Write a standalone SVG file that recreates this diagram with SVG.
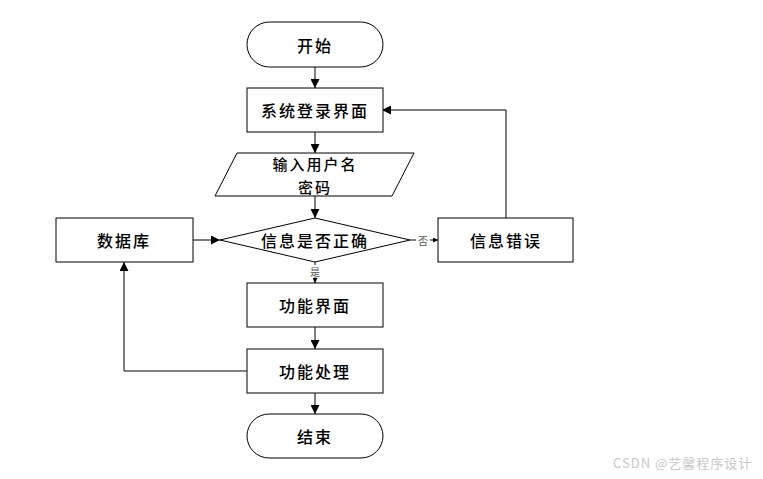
<svg xmlns="http://www.w3.org/2000/svg" width="763" height="479" viewBox="0 0 763 479">
<style>
.s{fill:#fff;stroke:#000;stroke-width:1}
.t{font-family:"Noto Sans CJK SC","Liberation Serif",serif;font-size:16px;font-weight:500;letter-spacing:2px;fill:#000;text-anchor:middle;dominant-baseline:central}
.m{font-size:15px}
.l{font-family:"Noto Sans CJK SC",sans-serif;font-size:10px;fill:#555;text-anchor:middle;dominant-baseline:central}
.c{fill:none;stroke:#000;stroke-width:1}
.w{font-family:"Noto Sans CJK SC",sans-serif;font-size:13px;letter-spacing:1px;fill:#c8c8c8}
</style>
<defs>
<marker id="a" viewBox="0 0 10 10" refX="10" refY="5" markerWidth="9" markerHeight="9" markerUnits="userSpaceOnUse" orient="auto">
<path d="M0,0L10,5L0,10Z" fill="#000"/>
</marker>
<marker id="b" viewBox="0 0 10 10" refX="10" refY="5" markerWidth="5" markerHeight="5" markerUnits="userSpaceOnUse" orient="auto">
<path d="M0,0L10,5L0,10Z" fill="#000"/>
</marker>
</defs>
<rect width="763" height="479" fill="#fff"/>
<g id="connectors">
<line class="c" x1="315" y1="67" x2="315" y2="88" marker-end="url(#a)"/>
<line class="c" x1="315" y1="132" x2="315" y2="153" marker-end="url(#a)"/>
<line class="c" x1="315" y1="196" x2="315" y2="218" marker-end="url(#a)"/>
<line class="c" x1="193" y1="240" x2="220" y2="240" marker-end="url(#a)"/>
<line class="c" x1="410" y1="240" x2="416" y2="240"/>
<line class="c" x1="430" y1="240" x2="438" y2="240" marker-end="url(#b)"/>
<text class="l" x="423" y="240">否</text>
<line class="c" x1="315" y1="262" x2="315" y2="265"/>
<line class="c" x1="315" y1="277" x2="315" y2="283" marker-end="url(#b)"/>
<text class="l" x="315" y="271">是</text>
<polyline class="c" points="506,218 506,110 382,110" marker-end="url(#a)"/>
<line class="c" x1="315" y1="327" x2="315" y2="349" marker-end="url(#a)"/>
<line class="c" x1="315" y1="393" x2="315" y2="414" marker-end="url(#a)"/>
<polyline class="c" points="247,371 124,371 124,262" marker-end="url(#a)"/>
</g>
<g id="start">
<rect class="s" x="247" y="22" width="136" height="45" rx="22.5"/>
<text class="t" x="315" y="44.5">开始</text>
</g>
<g id="login">
<rect class="s" x="247" y="88" width="136" height="44"/>
<text class="t" x="315" y="110">系统登录界面</text>
</g>
<g id="input">
<polygon class="s" points="237,153 414,153 392,196 215,196"/>
<text class="t m" x="315" y="163">输入用户名</text>
<text class="t m" x="315" y="186">密码</text>
</g>
<g id="check">
<polygon class="s" points="315,218 410,240 315,262 220,240"/>
<text class="t" x="315" y="240">信息是否正确</text>
</g>
<g id="error">
<rect class="s" x="438" y="218" width="135" height="44"/>
<text class="t" x="506" y="240">信息错误</text>
</g>
<g id="db">
<rect class="s" x="56" y="218" width="137" height="44"/>
<text class="t" x="124" y="240">数据库</text>
</g>
<g id="func">
<rect class="s" x="247" y="283" width="136" height="44"/>
<text class="t" x="315" y="305">功能界面</text>
</g>
<g id="proc">
<rect class="s" x="247" y="349" width="136" height="44"/>
<text class="t" x="315" y="371">功能处理</text>
</g>
<g id="end">
<rect class="s" x="247" y="414" width="136" height="44" rx="22"/>
<text class="t" x="315" y="436">结束</text>
</g>
<text class="w" x="613" y="468">CSDN @艺馨程序设计</text>
</svg>
